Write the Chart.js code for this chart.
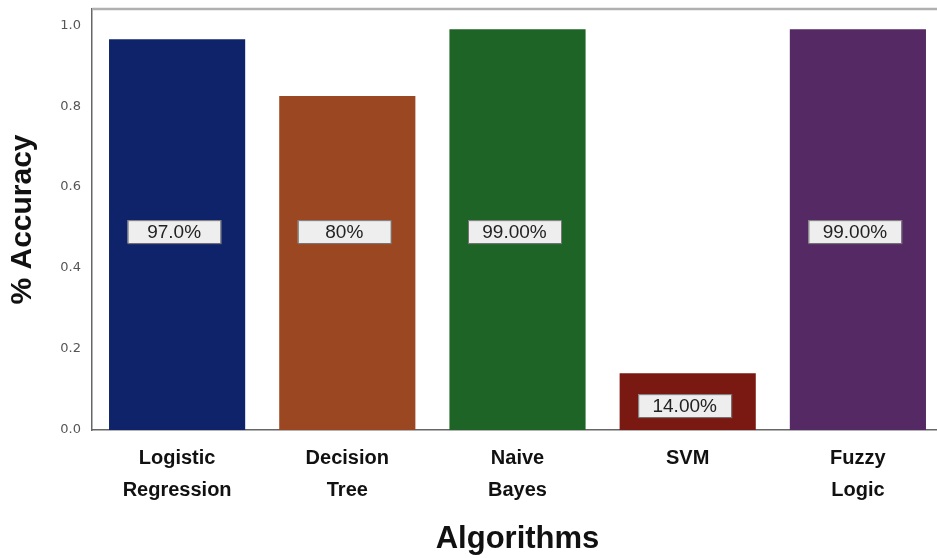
<!DOCTYPE html>
<html>
<head>
<meta charset="utf-8">
<script src="https://cdn.jsdelivr.net/npm/chart.js@4"></script>
<style>
  body { margin: 0; background: #fff; overflow: hidden; }
  #wrap { width: 945px; height: 558px; }
</style>
</head>
<body>
<div id="wrap"><canvas id="accChart"></canvas></div>
<script>
// chart data
const algorithms = [["Logistic", "Regression"], ["Decision", "Tree"], ["Naive", "Bayes"], "SVM", ["Fuzzy", "Logic"]];
const accuracy = [0.965, 0.825, 0.99, 0.14, 0.99];
const accuracyText = ["97.0%", "80%", "99.00%", "14.00%", "99.00%"];
const barColors = ["#0f236b", "#9b4722", "#1f6427", "#7a1912", "#552964"];
const yTicks = [0, 0.2, 0.4, 0.6, 0.8, 1.0];

// boxed value labels inside bars + top frame line
const boxLabels = {
    id: 'boxLabels',
    afterDatasetsDraw(chart) {
        const ctx = chart.ctx;
        const y = chart.scales.y;
        const area = chart.chartArea;
        ctx.save();
        ctx.strokeStyle = "#b0b0b0";
        ctx.lineWidth = 2.5;
        ctx.beginPath();
        ctx.moveTo(area.left, area.top);
        ctx.lineTo(area.right, area.top);
        ctx.stroke();

        chart.getDatasetMeta(0).data.forEach((bar, i) => {
            const v = accuracy[i] > 0.5 ? 0.49 : accuracy[i] * 0.43;
            const cy = y.getPixelForValue(v);
            const w = 93, h = 23;
            ctx.fillStyle = "#eeeeee";
            ctx.fillRect(bar.x - w / 2 - 3, cy - h / 2, w, h);
            ctx.strokeStyle = "#777";
            ctx.lineWidth = 1;
            ctx.strokeRect(bar.x - w / 2 - 3 + 0.5, cy - h / 2 + 0.5, w, h);
            ctx.fillStyle = "#222";
            ctx.font = "19px 'Liberation Sans', Arial, sans-serif";
            ctx.textAlign = "center";
            ctx.textBaseline = "middle";
            ctx.fillText(accuracyText[i], bar.x - 3, cy + 1);
        });
        ctx.restore();
    }
};

new Chart(document.getElementById('accChart').getContext('2d'), {
    type: 'bar',
    data: {
        labels: algorithms,
        datasets: [{
            data: accuracy,
            backgroundColor: barColors,
            barPercentage: 0.8,
            categoryPercentage: 1.0
        }]
    },
    options: {
        responsive: true,
        maintainAspectRatio: false,
        animation: false,
        layout: { padding: { left: 0, right: 2, top: 9, bottom: 0 } },
        plugins: { legend: { display: false }, tooltip: { enabled: false } },
        scales: {
            x: {
                grid: { display: false, drawTicks: true, tickLength: 6, color: "#666" },
                border: { color: "#666", width: 1.5 },
                ticks: {
                    color: "#111",
                    padding: 6,
                    maxRotation: 0,
                    font: { family: "'Liberation Sans', Arial, sans-serif", size: 20, weight: 'bold', lineHeight: 1.6 }
                },
                title: {
                    display: true,
                    text: "Algorithms",
                    color: "#111",
                    padding: { top: 0, bottom: 0 },
                    font: { family: "'Liberation Sans', Arial, sans-serif", size: 31, weight: 'bold' }
                },
                afterFit: s => { s.height = 128; }
            },
            y: {
                min: 0,
                max: 1.04,
                afterBuildTicks: s => { s.ticks = yTicks.map(v => ({ value: v })); },
                grid: { display: false, drawTicks: true, tickLength: 6, color: "#666" },
                border: { color: "#666", width: 1.5 },
                ticks: {
                    color: "#555",
                    padding: 5,
                    font: { family: "'DejaVu Sans', sans-serif", size: 13 },
                    callback: v => v.toFixed(1)
                },
                title: {
                    display: true,
                    text: "% Accuracy",
                    color: "#111",
                    padding: { top: 5, bottom: 0 },
                    font: { family: "'Liberation Sans', Arial, sans-serif", size: 30, weight: 'bold' }
                },
                afterFit: s => { s.width = 92; s.paddingTop = 0; s.paddingBottom = 0; }
            }
        }
    },
    plugins: [boxLabels]
});
</script>
</body>
</html>
